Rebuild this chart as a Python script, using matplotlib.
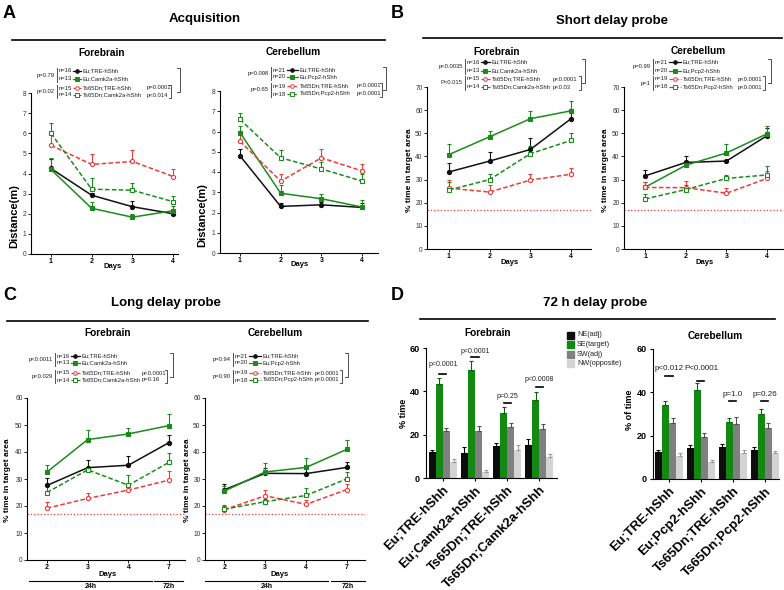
import numpy as np
import matplotlib
matplotlib.use('Agg')
import matplotlib.pyplot as plt
from matplotlib.patches import Rectangle

plt.rcParams['font.family'] = ['Liberation Sans', 'DejaVu Sans']
plt.rcParams['axes.linewidth'] = 0.8

W, H = 784, 590
BLACK = '#111111'
GREEN = '#1b8c1b'
RED = '#f03a3a'

# ---- data ----
groups_fore = ['Eu;TRE-hShh', 'Eu;Camk2a-hShh', 'Ts65Dn;TRE-hShh', 'Ts65Dn;Camk2a-hShh']
groups_cere = ['Eu;TRE-hShh', 'Eu;Pcp2-hShh', 'Ts65Dn;TRE-hShh', 'Ts65Dn;Pcp2-hShh']
n_fore = [16, 13, 15, 14]
n_cere = [21, 20, 19, 18]

days_ab = ['1', '2', '3', '4']
days_c = ['2', '3', '4', '7']

# A: acquisition, distance (m); one row per group
acq_fore_mean = [[4.25, 2.92, 2.35, 2.00],
                 [4.20, 2.27, 1.83, 2.15],
                 [5.40, 4.45, 4.60, 3.85],
                 [6.00, 3.22, 3.17, 2.60]]
acq_fore_sem = [[0.45, 0.10, 0.30, 0.10],
                [0.55, 0.33, 0.17, 0.25],
                [0.50, 0.50, 0.55, 0.35],
                [0.50, 0.58, 0.38, 0.28]]
acq_cere_mean = [[4.80, 2.30, 2.38, 2.25],
                 [5.95, 2.95, 2.68, 2.27],
                 [5.52, 3.55, 4.70, 4.05],
                 [6.60, 4.70, 4.15, 3.55]]
acq_cere_sem = [[0.35, 0.15, 0.12, 0.20],
                [0.30, 0.40, 0.22, 0.33],
                [0.35, 0.35, 0.45, 0.35],
                [0.30, 0.38, 0.35, 0.35]]

# B: short delay probe, % time in target area
short_fore_mean = [[33.3, 38.0, 43.0, 56.3],
                   [40.8, 48.5, 56.3, 59.7],
                   [26.3, 24.6, 29.8, 32.3],
                   [25.5, 30.0, 41.2, 46.9]]
short_fore_sem = [[3.7, 3.8, 4.8, 4.0],
                  [4.4, 2.7, 3.2, 4.1],
                  [3.5, 3.1, 2.4, 2.5],
                  [3.5, 2.5, 3.3, 3.4]]
short_cere_mean = [[31.6, 37.4, 38.0, 49.0],
                   [26.7, 36.2, 41.5, 49.8],
                   [26.6, 26.5, 24.1, 30.5],
                   [21.6, 25.7, 30.5, 32.0]]
short_cere_sem = [[2.4, 2.6, 0.5, 3.5],
                  [2.1, 1.8, 3.8, 3.2],
                  [2.2, 2.8, 2.4, 3.0],
                  [2.1, 2.0, 1.5, 3.8]]

# C: long delay probe, % time in target area
long_fore_mean = [[27.6, 34.2, 35.1, 43.5],
                  [32.6, 44.6, 46.7, 49.8],
                  [19.2, 22.8, 25.9, 29.6],
                  [25.0, 33.4, 27.7, 36.2]]
long_fore_sem = [[2.7, 3.0, 3.4, 2.8],
                 [2.7, 3.7, 2.1, 4.2],
                 [2.4, 1.9, 2.6, 3.2],
                 [2.6, 0.3, 3.6, 3.3]]
long_cere_mean = [[26.0, 32.1, 32.0, 34.3],
                  [25.5, 32.6, 34.3, 41.0],
                  [18.6, 23.8, 20.6, 26.1],
                  [18.8, 21.6, 23.9, 30.1]]
long_cere_sem = [[2.2, 2.0, 2.3, 2.1],
                 [2.0, 3.4, 3.3, 3.3],
                 [1.4, 2.0, 1.7, 1.9],
                 [1.5, 1.0, 2.6, 2.5]]

chance_level = 17

# D: 72 h delay probe, one row per quadrant, one column per group
quadrants = ['NE(adj)', 'SE(target)', 'SW(adj)', 'NW(opposite)']
quad_fore_mean = [[11.8, 11.5, 14.7, 15.2],
                  [43.5, 50.0, 30.0, 36.2],
                  [21.6, 21.5, 23.5, 22.5],
                  [7.2, 3.0, 12.9, 9.6]]
quad_fore_sem = [[1.0, 2.7, 1.6, 2.6],
                 [2.7, 4.1, 2.7, 3.4],
                 [1.3, 2.7, 1.8, 2.2],
                 [1.5, 0.7, 2.4, 1.3]]
quad_cere_mean = [[12.3, 14.2, 14.8, 13.4],
                  [34.3, 41.2, 26.3, 30.2],
                  [25.7, 19.5, 25.3, 23.5],
                  [10.8, 8.0, 12.0, 12.0]]
quad_cere_sem = [[1.1, 1.6, 1.2, 1.4],
                 [1.9, 3.1, 1.7, 2.3],
                 [2.3, 1.7, 3.5, 2.5],
                 [1.0, 0.8, 1.3, 0.8]]

d_fore_p = ['p<0.0001', 'p<0.0001', 'p=0.25', 'p<0.0008']
d_fore_p_y = [52.3, 58.5, 37.5, 45.3]
d_fore_bar_y = [47.9, 55.8, 34.4, 41.9]
d_cere_p = ['p<0.012', 'P<0.0001', 'p=1.0', 'p=0.26']
d_cere_p_y = [51.1, 51.1, 38.8, 38.8]
d_cere_bar_y = [47.7, 45.2, 36.0, 36.0]

# ---- styles ----
DASH = (0, (3, 1.5))
styles = [dict(color=BLACK, ls='-', marker='o', mfc=BLACK),
          dict(color=GREEN, ls='-', marker='s', mfc=GREEN),
          dict(color=RED, ls=DASH, marker='o', mfc='white'),
          dict(color=GREEN, ls=DASH, marker='s', mfc='white')]
quad_colors = ['#0d0d0d', '#128a12', '#808080', '#d4d4d4']
quad_ecolors = ['#000000', '#0b5e0b', '#505050', '#9a9a9a']

fig = plt.figure(figsize=(W / 100, H / 100), dpi=100)


def px_axes(x0, y0, x1, y1):
    return fig.add_axes([x0 / W, 1 - y1 / H, (x1 - x0) / W, (y1 - y0) / H])


def clean(ax):
    for s in ('top', 'right'):
        ax.spines[s].set_visible(False)


def line_panel(ax, labels, means, sems, xlim, ymax, ystep, chance=None):
    x = np.arange(len(labels))
    for m, s, st in zip(means, sems, styles):
        ax.errorbar(x, m, yerr=[np.zeros(len(s)), s], color=st['color'], ls=st['ls'],
                    marker=st['marker'], mfc=st['mfc'], mec=st['color'], ms=3, mew=0.8,
                    lw=1.1, elinewidth=0.8, capsize=1.5, capthick=0.8)
    if chance is not None:
        ax.axhline(chance, color=RED, ls=':', lw=0.9)
    ax.set_xlim(xlim)
    ax.set_ylim(0, ymax)
    ax.set_xticks(x, labels, fontsize=5, fontweight='bold')
    ax.set_yticks(np.arange(0, ymax + 0.01, ystep))
    ax.tick_params(axis='y', labelsize=4.8, labelcolor='#333333')
    ax.tick_params(length=2, width=0.6, pad=1.2)
    clean(ax)


def bar_panel(ax, groups, means, sems, ptext, ptext_y, pbar_y, xlim, pfs):
    x = np.arange(len(groups))
    w = 0.22
    for q in range(4):
        ax.bar(x + (q - 1.5) * w, means[q], w, color=quad_colors[q],
               yerr=[np.zeros(len(groups)), sems[q]], ecolor=quad_ecolors[q],
               error_kw=dict(capsize=1.5, elinewidth=0.8, capthick=0.8))
    for i in range(len(groups)):
        ax.plot([x[i] - w / 2, x[i] + w / 2], [pbar_y[i]] * 2, color='k', lw=1.2)
        ax.text(x[i], ptext_y[i], ptext[i], ha='center', va='center', fontsize=pfs, color='#222222')
    ax.set_xlim(xlim)
    ax.set_ylim(0, 60)
    ax.set_yticks([0, 20, 40, 60])
    ax.set_xticks(x)
    ax.set_xticklabels(groups, rotation=45, ha='right', rotation_mode='anchor',
                       fontsize=9.5, fontweight='bold')
    ax.tick_params(axis='y', labelsize=6.5)
    for lab in ax.get_yticklabels():
        lab.set_fontweight('bold')
    ax.tick_params(length=2.5, width=0.8, pad=2)
    clean(ax)


# ---- panels ----
ax = px_axes(31, 93, 178, 254)
line_panel(ax, days_ab, acq_fore_mean, acq_fore_sem, (-0.49, 3.12), 8, 1)
ax = px_axes(220, 91, 378, 253)
line_panel(ax, days_ab, acq_cere_mean, acq_cere_sem, (-0.49, 3.39), 8, 1)
ax = px_axes(427, 87, 591, 249)
line_panel(ax, days_ab, short_fore_mean, short_fore_sem, (-0.54, 3.49), 70, 10, chance_level)
ax = px_axes(624, 87, 783, 249)
line_panel(ax, days_ab, short_cere_mean, short_cere_sem, (-0.52, 3.39), 70, 10, chance_level)
ax = px_axes(27, 398, 185, 560)
line_panel(ax, days_c, long_fore_mean, long_fore_sem, (-0.49, 3.39), 60, 10, chance_level)
ax = px_axes(205, 398, 365, 560)
line_panel(ax, days_c, long_cere_mean, long_cere_sem, (-0.47, 3.44), 60, 10, chance_level)

ax = px_axes(426, 348, 557, 478)
bar_panel(ax, groups_fore, quad_fore_mean, quad_fore_sem, d_fore_p, d_fore_p_y, d_fore_bar_y,
          (-0.53, 3.56), 5)
ax = px_axes(653, 349, 779, 479)
bar_panel(ax, groups_cere, quad_cere_mean, quad_cere_sem, d_cere_p, d_cere_p_y, d_cere_bar_y,
          (-0.5, 3.44), 5.8)

# ---- overlay for titles, legends and labels (pixel coordinates) ----
ov = fig.add_axes([0, 0, 1, 1], zorder=10)
ov.set_xlim(0, W)
ov.set_ylim(H, 0)
ov.axis('off')

for lab, x, y in [('A', 3, 13), ('B', 391, 13), ('C', 3, 296), ('D', 391, 296)]:
    ov.text(x, y, lab, fontsize=13, fontweight='bold', va='center')

for title, xc, ty, x0, x1, ly in [('Acquisition', 205, 19, 12, 385, 40),
                                  ('Short delay probe', 612, 21, 423, 782, 38),
                                  ('Long delay probe', 166, 303, 7, 368, 321),
                                  ('72 h delay probe', 595, 303, 420, 775, 319)]:
    ov.text(xc, ty, title, fontsize=9.5, fontweight='bold', ha='center', va='center')
    ov.plot([x0, x1], [ly, ly], color='k', lw=1.2)

for sub, x, y in [('Forebrain', 102, 53), ('Cerebellum', 293, 52),
                  ('Forebrain', 497, 52), ('Cerebellum', 698, 51),
                  ('Forebrain', 108, 333), ('Cerebellum', 275, 333),
                  ('Forebrain', 488, 333), ('Cerebellum', 715, 336)]:
    ov.text(x, y, sub, fontsize=7.3, fontweight='bold', ha='center', va='center')

for txt, x, y, fs in [('Distance(m)', 14, 216, 8), ('Distance(m)', 202, 215, 8),
                      ('% time in target area', 410, 170, 6), ('% time in target area', 606, 170, 6),
                      ('% time in target area', 8, 480, 6), ('% time in target area', 188, 480, 6),
                      ('% time', 404, 413, 6.5), ('% of time', 630, 410, 6.5)]:
    ov.text(x, y, txt, fontsize=fs, fontweight='bold', rotation=90, ha='center', va='center')

for x, y in [(113, 266), (300, 265), (510, 262), (705, 262), (108, 574), (280, 574)]:
    ov.text(x, y, 'Days', fontsize=5.5, fontweight='bold', ha='center', va='center')

# 24h / 72h bars under panel C
for x0, x1, x2, x3 in [(29, 152, 154, 183), (205, 328, 331, 365)]:
    ov.plot([x0, x1], [581, 581], color='k', lw=0.8)
    ov.plot([x2, x3], [581, 581], color='k', lw=0.8)
    ov.text((x0 + x1) / 2, 586.5, '24h', fontsize=5, fontweight='bold', ha='center', va='center')
    ov.text((x2 + x3) / 2, 586.5, '72h', fontsize=5, fontweight='bold', ha='center', va='center')


def legend_block(cfg, names, ns):
    rows = cfg['rows']
    fs = 4.2
    col = '#222222'
    xn = cfg['sep'] + 2
    for i in range(4):
        st = styles[i]
        ov.text(xn, rows[i], f'n={ns[i]}', fontsize=fs, va='center', color=col)
        ov.plot([cfg['mk'][0], cfg['mk'][1]], [rows[i]] * 2, color=st['color'], ls=st['ls'], lw=0.9)
        ov.plot([(cfg['mk'][0] + cfg['mk'][1]) / 2], [rows[i]], marker=st['marker'], ms=2.6,
                mfc=st['mfc'], mec=st['color'], mew=0.7)
        ov.text(cfg['mk'][1] + 2, rows[i], names[i], fontsize=fs, va='center', color=col)
    sep = cfg['sep']
    for k, (lo, hi) in enumerate([(0, 1), (2, 3)]):
        ov.plot([sep, sep], [rows[lo] - 3.3, rows[hi] + 3.3], color='#333333', lw=0.6)
        ov.text(sep - 2, (rows[lo] + rows[hi]) / 2, cfg['pl'][k], fontsize=fs, ha='right',
                va='center', color=col)
    for k in (2, 3):
        ov.text(cfg['xpr'], rows[k], cfg['pr'][k - 2], fontsize=fs, va='center', color=col)
    b1, b2 = cfg['br']
    ov.plot([b1 - 2, b1, b1, b1 - 2], [rows[2] - 3, rows[2] - 3, rows[3] + 3, rows[3] + 3],
            color='#333333', lw=0.6)
    mid = (rows[2] + rows[3]) / 2
    ov.plot([b2 - 3, b2, b2, b2 - 3], [rows[0] - 3, rows[0] - 3, mid, mid], color='#333333', lw=0.6)


legend_block(dict(rows=[71, 79, 88, 95], sep=57, mk=(73, 81),
                  pl=['p=0.79', 'p<0.02'], xpr=147, pr=['p=0.0001', 'p<0.014'], br=(171, 180)),
             groups_fore, n_fore)
legend_block(dict(rows=[70, 77, 86, 94], sep=271, mk=(287, 298),
                  pl=['p=0.098', 'p=0.65'], xpr=357, pr=['p<0.0001', 'p<0.0001'], br=(382, 386)),
             groups_cere, n_cere)
legend_block(dict(rows=[62, 71, 79, 87], sep=465, mk=(481, 490),
                  pl=['p<0.0035', 'P<0.015'], xpr=553, pr=['p<0.0001', 'p<0.03'], br=(581, 585)),
             groups_fore, n_fore)
legend_block(dict(rows=[62, 71, 79, 87], sep=653, mk=(669, 681),
                  pl=['p=0.99', 'p=1'], xpr=738, pr=['p<0.0001', 'p<0.0001'], br=(765, 771)),
             groups_cere, n_cere)
legend_block(dict(rows=[356, 363, 373, 380], sep=55, mk=(71, 80),
                  pl=['p<0.0011', 'p<0.029'], xpr=142, pr=['p<0.0001', 'p=0.16'], br=(167, 173)),
             groups_fore, n_fore)
legend_block(dict(rows=[356, 363, 373, 380], sep=233, mk=(249, 261),
                  pl=['p=0.94', 'p=0.90'], xpr=315, pr=['p<0.0001', 'p<0.0001'], br=(342, 348)),
             groups_cere, n_cere)

# quadrant legend for D
for i, q in enumerate(quadrants):
    y = 335 + i * 9.5
    ov.add_patch(Rectangle((567, y - 3.5), 7, 7, color=quad_colors[i]))
    ov.text(577, y, q, fontsize=5.2, va='center', color='#222222')

fig.savefig('out.png', dpi=100)
